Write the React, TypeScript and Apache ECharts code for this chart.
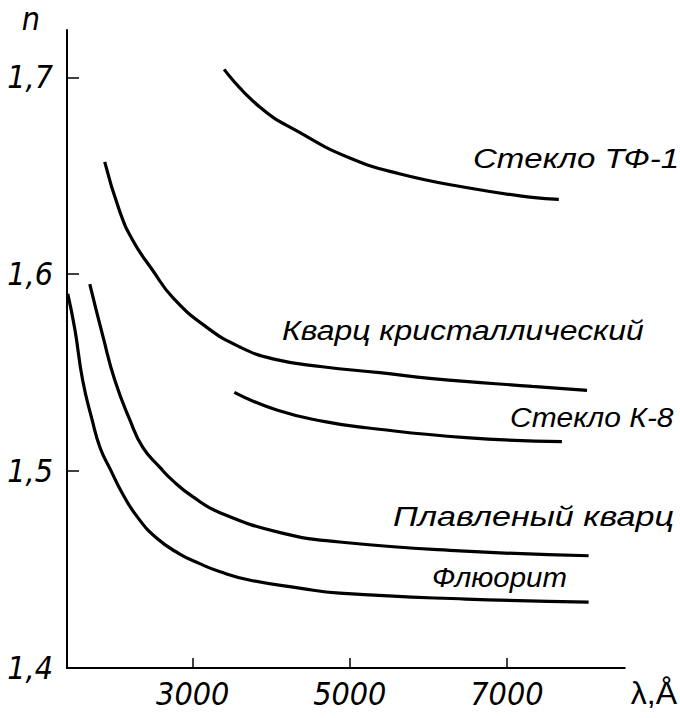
import React, { useEffect, useRef } from "react";
import * as echarts from "echarts";

const yTicks = [1.4, 1.5, 1.6, 1.7];
const xTicks = [3000, 5000, 7000];

const glassTF1: [number, number][] = [
  [3400, 1.704], [3850, 1.685], [4360, 1.672], [5000, 1.659], [5630, 1.651],
  [6480, 1.644], [7320, 1.639], [7660, 1.638],
];
const quartzCrystal: [number, number][] = [
  [1880, 1.657], [2070, 1.632], [2240, 1.617], [2490, 1.602], [2750, 1.588],
  [3180, 1.573], [3600, 1.563], [4020, 1.557], [4650, 1.553], [5380, 1.550],
  [6050, 1.547], [7320, 1.543], [8020, 1.541],
];
const glassK8: [number, number][] = [
  [3530, 1.540], [4070, 1.531], [4700, 1.525], [5210, 1.522], [6480, 1.517], [7700, 1.515],
];
const fusedQuartz: [number, number][] = [
  [1690, 1.595], [1860, 1.568], [2010, 1.546], [2200, 1.526], [2365, 1.512],
  [2580, 1.502], [2750, 1.495], [3000, 1.487], [3340, 1.479], [4140, 1.4685],
  [4870, 1.464], [6400, 1.4595], [8040, 1.457],
];
const fluorite: [number, number][] = [
  [1410, 1.590], [1500, 1.572], [1600, 1.546], [1720, 1.526], [1820, 1.512],
  [1950, 1.501], [2100, 1.489], [2290, 1.477], [2540, 1.466], [2830, 1.458],
  [3090, 1.453], [3340, 1.449], [3720, 1.4447], [4360, 1.4406], [4870, 1.438],
  [6480, 1.435], [8040, 1.4335],
];

const seriesNames = ["Стекло ТФ-1", "Кварц кристаллический", "Стекло К-8", "Плавленый кварц", "Флюорит"];
const seriesData = [glassTF1, quartzCrystal, glassK8, fusedQuartz, fluorite];

const FONT = "'DejaVu Sans Condensed', 'Liberation Sans Narrow', 'Liberation Sans', sans-serif";

export default function App() {
  const ref = useRef<HTMLDivElement>(null);
  useEffect(() => {
    document.body.style.margin = "0";
    if (!ref.current) return;
    const chart = echarts.init(ref.current, null, { renderer: "svg" });
    const labelPos: [number, number][] = [
      [473, 158], [282, 330], [510, 417], [393, 517], [432, 577],
    ];
    const labelScale = [1.18, 1.14, 1.07, 1.22, 1.05];
    chart.setOption({
      animation: false,
      backgroundColor: "#ffffff",
      grid: { left: 67, right: 55, top: 30, bottom: 50, containLabel: false },
      xAxis: {
        type: "value",
        min: 1400,
        max: 8500,
        name: "λ,Å",
        nameLocation: "end",
        nameGap: 6,
        nameTextStyle: {
          fontFamily: "'Liberation Sans', sans-serif",
          fontSize: 32,
          color: "#000",
          verticalAlign: "top",
          padding: [9, 0, 0, 0],
        },
        axisLine: { show: true, lineStyle: { color: "#000", width: 2 } },
        axisTick: { show: true, inside: true, length: 10, customValues: xTicks, lineStyle: { color: "#000", width: 1.5 } },
        axisLabel: {
          customValues: xTicks,
          margin: 10,
          fontFamily: FONT,
          fontStyle: "italic",
          fontSize: 32,
          color: "#000",
          formatter: (v: number) => String(v),
        },
        splitLine: { show: false },
      },
      yAxis: {
        type: "value",
        min: 1.4,
        max: 1.724,
        name: "n",
        nameLocation: "end",
        nameGap: 11,
        nameTextStyle: {
          fontFamily: FONT,
          fontStyle: "italic",
          fontSize: 32,
          color: "#000",
          align: "right",
          verticalAlign: "middle",
          padding: [0, 27, 0, 0],
        },
        axisLine: { show: true, lineStyle: { color: "#000", width: 2 } },
        axisTick: { show: true, inside: true, length: 12, customValues: yTicks, lineStyle: { color: "#000", width: 1.5 } },
        axisLabel: {
          customValues: yTicks,
          margin: 14,
          fontFamily: FONT,
          fontStyle: "italic",
          fontSize: 32,
          color: "#000",
          formatter: (v: number) => v.toFixed(1).replace(".", ","),
        },
        splitLine: { show: false },
      },
      series: seriesData.map((d, i) => ({
        name: seriesNames[i],
        type: "line",
        data: d,
        smooth: 0.5,
        showSymbol: false,
        symbol: "none",
        lineStyle: { color: "#000", width: 3.2 },
      })),
      graphic: seriesNames.map((n, i) => ({
        type: "text",
        x: labelPos[i][0],
        y: labelPos[i][1],
        scaleX: labelScale[i],
        style: {
          text: n,
          fontFamily: "'Liberation Sans', sans-serif",
          fontStyle: "italic",
          fontSize: 28,
          fill: "#000",
          verticalAlign: "middle",
          align: "left",
        },
      })),
    });
    return () => chart.dispose();
  }, []);
  return <div ref={ref} style={{ width: 680, height: 718 }} />;
}
